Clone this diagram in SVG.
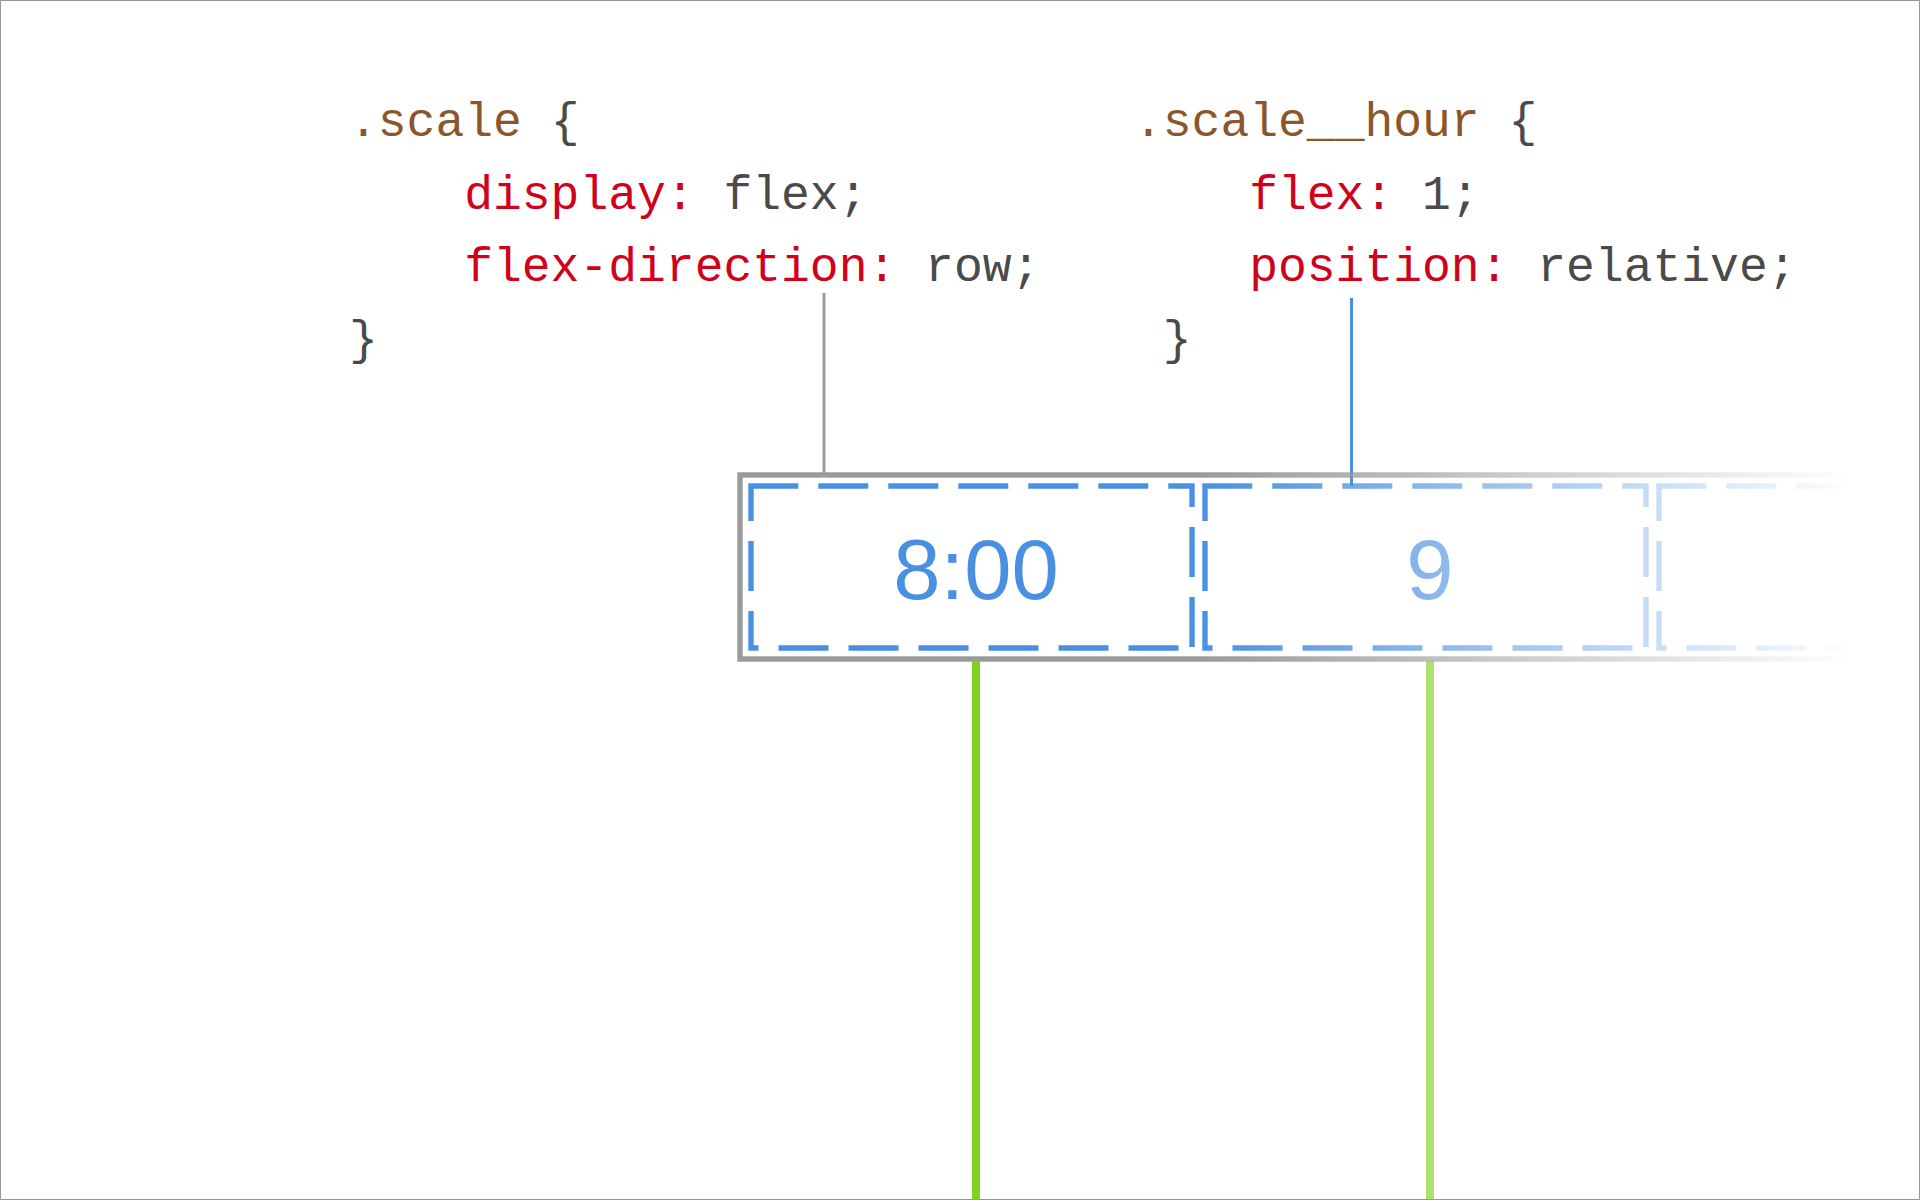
<svg xmlns="http://www.w3.org/2000/svg" width="1920" height="1200" viewBox="0 0 1920 1200">
<style>
.code{font-family:"Liberation Mono","DejaVu Sans Mono",monospace;font-size:48px;fill:#4a4a4a}
.sel{fill:#8b572a}
.prop{fill:#d0021b}
.hour{fill:none;stroke:#4a90e2;stroke-width:10.8;stroke-dasharray:50 20}
.label{font-family:"Liberation Sans",Arial,sans-serif;font-size:85px;fill:#4a90e2;text-anchor:middle}
</style>
<defs>
<clipPath id="inside" clipPathUnits="objectBoundingBox"><rect x="0" y="0" width="1" height="1"/></clipPath>
<linearGradient id="fadeGrad" gradientUnits="userSpaceOnUse" x1="1200" y1="0" x2="1855" y2="0">
<stop offset="0" stop-color="#fff"/>
<stop offset="1" stop-color="#000"/>
</linearGradient>
<mask id="fade" maskUnits="userSpaceOnUse" x="0" y="0" width="1920" height="1200">
<rect x="0" y="0" width="1920" height="1200" fill="url(#fadeGrad)"/>
</mask>
</defs>
<rect x="0" y="0" width="1920" height="1200" fill="#fff"/>

<g id="code-scale">
<text class="code" x="349" y="136" xml:space="preserve"><tspan class="sel">.scale</tspan> {</text>
<text class="code" x="464.2" y="208.5" xml:space="preserve"><tspan class="prop">display:</tspan> flex;</text>
<text class="code" x="464.2" y="281" xml:space="preserve"><tspan class="prop">flex-direction:</tspan> row;</text>
<text class="code" x="349" y="354">}</text>
</g>

<g id="code-scale-hour">
<text class="code" x="1134" y="136" xml:space="preserve"><tspan class="sel">.scale__hour</tspan> {</text>
<text class="code" x="1249.2" y="208.5" xml:space="preserve"><tspan class="prop">flex:</tspan> 1;</text>
<text class="code" x="1249.2" y="281" xml:space="preserve"><tspan class="prop">position:</tspan> relative;</text>
<text class="code" x="1162.8" y="354">}</text>
</g>

<g id="connectors">
<line x1="824" y1="293" x2="824" y2="474" stroke="#9b9b9b" stroke-width="3"/>
<line x1="1351.5" y1="298" x2="1351.5" y2="486" stroke="#4a90e2" stroke-width="3"/>
<line x1="976" y1="661" x2="976" y2="1200" stroke="#7ed321" stroke-width="8"/>
<line x1="1430" y1="661" x2="1430" y2="1200" stroke="#7ed321" stroke-width="8" mask="url(#fade)"/>
</g>

<g mask="url(#fade)">
<g id="scale">
<rect x="737.3" y="472.3" width="1400" height="189.4" fill="none" stroke="#9b9b9b" stroke-width="10.8" clip-path="url(#inside)"/>
</g>
<g id="hour-1">
<rect class="hour" x="748.3" y="483.3" width="446.4" height="167.4" clip-path="url(#inside)"/>
<text class="label" x="976" y="599">8:00</text>
</g>
<g id="hour-2">
<rect class="hour" x="1202.3" y="483.3" width="446.4" height="167.4" clip-path="url(#inside)"/>
<text class="label" x="1430" y="599">9</text>
</g>
<g id="hour-3">
<rect class="hour" x="1656.3" y="483.3" width="446.4" height="167.4" clip-path="url(#inside)"/>
</g>
</g>

<rect x="0.5" y="0.5" width="1919" height="1199" fill="none" stroke="#979797" stroke-width="1"/>
</svg>
